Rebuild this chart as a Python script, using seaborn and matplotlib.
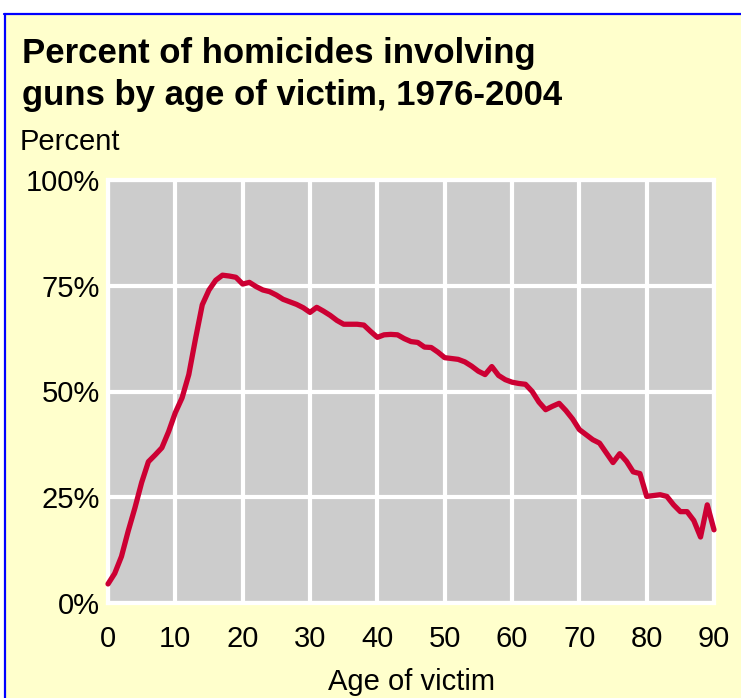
import matplotlib
matplotlib.use("Agg")
import matplotlib.pyplot as plt
from matplotlib.patches import Rectangle
from matplotlib.lines import Line2D
import seaborn as sns
import pandas as pd

# Share of homicides committed with a gun, by victim age (1976-2004)
ages = list(range(0, 91))
gun_pct = [
    4.5, 7.0, 11.0, 17.0, 22.5, 28.5, 33.4, 35.0, 36.7, 40.5,
    45.0, 48.5, 54.0, 62.5, 70.5, 74.0, 76.3, 77.5, 77.3, 77.0,
    75.4, 75.8, 74.8, 74.0, 73.6, 72.8, 71.8, 71.2, 70.6, 69.8,
    68.7, 69.9, 69.0, 68.0, 66.8, 65.9, 65.9, 65.9, 65.7, 64.2,
    62.8, 63.4, 63.5, 63.4, 62.5, 61.8, 61.6, 60.5, 60.4, 59.3,
    58.0, 57.8, 57.6, 57.0, 56.0, 54.8, 54.0, 55.9, 53.8, 52.8,
    52.2, 51.9, 51.7, 50.0, 47.5, 45.7, 46.5, 47.2, 45.5, 43.5,
    41.0, 39.8, 38.6, 37.8, 35.5, 33.2, 35.3, 33.5, 31.0, 30.6,
    25.2, 25.4, 25.6, 25.2, 23.2, 21.6, 21.6, 19.5, 15.6, 23.2,
    17.3,
]
x_ticks = [0, 10, 20, 30, 40, 50, 60, 70, 80, 90]
y_ticks = [0, 25, 50, 75, 100]
y_tick_labels = ["0%", "25%", "50%", "75%", "100%"]

title_lines = ["Percent of homicides involving", "guns by age of victim, 1976-2004"]
y_caption = "Percent"
x_caption = "Age of victim"

W, H = 741, 698
sns.set_theme(style="darkgrid")
fonts = ["Liberation Sans Narrow", "Liberation Sans", "DejaVu Sans"]
plt.rcParams["font.family"] = fonts

bg_yellow = "#FFFFCC"
cell_gray = "#CCCCCC"
line_red = "#CC0033"

fig = plt.figure(figsize=(W / 100, H / 100), dpi=100, facecolor="white")

# yellow panel framed in blue along its top and left edges
fig.add_artist(Rectangle((6 / W, 0), 1, 1 - 15 / H, transform=fig.transFigure,
                         facecolor=bg_yellow, edgecolor="none", zorder=-10))
fig.add_artist(Line2D([4 / W, 1], [1 - 14 / H, 1 - 14 / H], transform=fig.transFigure,
                      color="#0000FF", linewidth=1.6))
fig.add_artist(Line2D([5 / W, 5 / W], [0, 1 - 14 / H], transform=fig.transFigure,
                      color="#0000FF", linewidth=1.6))

left, right = 108 / W, 714 / W
bottom, top = 1 - 603 / H, 1 - 180 / H
ax = fig.add_axes([left, bottom, right - left, top - bottom])
ax.set_facecolor(cell_gray)

df = pd.DataFrame({"age": ages, "pct": gun_pct})
sns.lineplot(data=df, x="age", y="pct", ax=ax, color=line_red,
             linewidth=3.8, clip_on=False, zorder=5)

ax.set_xlim(0, 90)
ax.set_ylim(0, 100)
ax.set_xticks(x_ticks)
ax.set_yticks(y_ticks)
ax.set_yticklabels(y_tick_labels)
ax.set_xlabel("")
ax.set_ylabel("")
ax.grid(True, color="white", linewidth=3.0)
for side in ["left", "right", "top", "bottom"]:
    ax.spines[side].set_visible(True)
    ax.spines[side].set_color("white")
    ax.spines[side].set_linewidth(3.0)
ax.tick_params(axis="x", length=8, width=2, color="white", pad=8,
               labelsize=21, labelcolor="black")
ax.tick_params(axis="y", length=0, pad=6, labelsize=21, labelcolor="black")

for i, line in enumerate(title_lines):
    fig.text(22 / W, 1 - (63 + 42 * i) / H, line, fontsize=25, fontweight="bold",
             ha="left", va="baseline", color="black")
fig.text(20 / W, 1 - 150 / H, y_caption, fontsize=21, ha="left", va="baseline",
         color="black")
fig.text((left + right) / 2, 1 - 690 / H, x_caption, fontsize=21, ha="center",
         va="baseline", color="black")

fig.savefig("out.png", dpi=100, facecolor=fig.get_facecolor())
